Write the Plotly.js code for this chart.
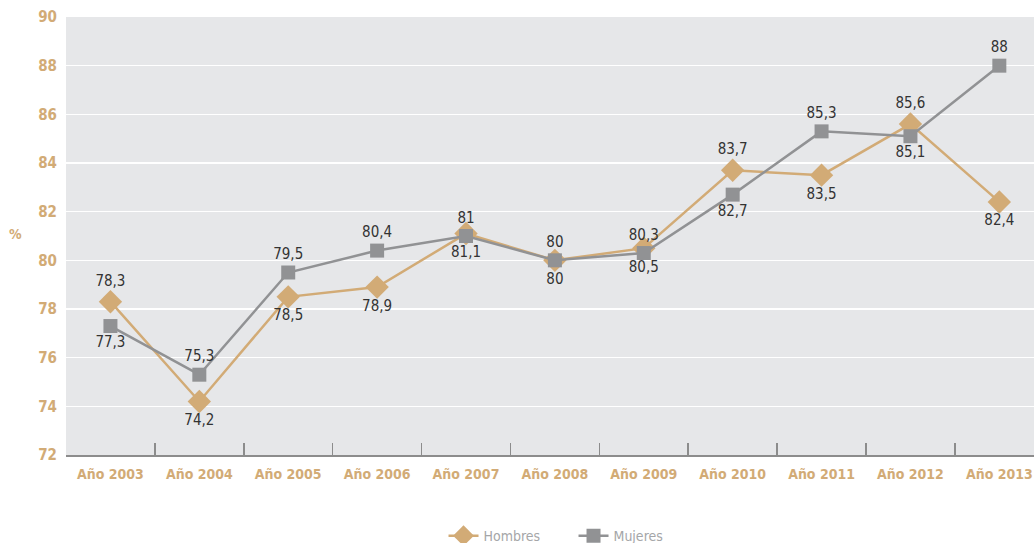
<!DOCTYPE html>
<html><head><meta charset="utf-8">
<script src="https://cdn.plot.ly/plotly-3.0.1.min.js"></script>
<style>html,body{margin:0;padding:0;background:#fff}#chart{width:1034px;height:543px}</style>
</head><body><div id="chart"></div>
<script>
const categories = ["Año 2003","Año 2004","Año 2005","Año 2006","Año 2007","Año 2008","Año 2009","Año 2010","Año 2011","Año 2012","Año 2013"];
const hombres = [78.3, 74.2, 78.5, 78.9, 81.1, 80, 80.5, 83.7, 83.5, 85.6, 82.4];
const mujeres = [77.3, 75.3, 79.5, 80.4, 81, 80, 80.3, 82.7, 85.3, 85.1, 88];
const hombresPos = ["top","bottom","bottom","bottom","bottom","bottom","bottom","top","bottom","top","bottom"];
const mujeresPos = ["bottom","top","top","top","top","top","top","bottom","top","bottom","top"];
const yTicks = [72,74,76,78,80,82,84,86,88,90];

const fmt = v => String(v).replace('.', ',');
const FONT = "DejaVu Sans Condensed, Liberation Sans Narrow, sans-serif";
const TAN = "#d2ab76";
const GRAY = "#919294";

const traces = [
  {x: categories, y: hombres, name: "Hombres", type: "scatter", mode: "lines+markers+text",
   line: {color: TAN, width: 2.5}, marker: {symbol: "diamond", size: 18, color: TAN},
   text: hombres.map(fmt), textposition: hombresPos.map(p => p + " center"),
   textfont: {family: FONT, size: 15, color: "#333"}, cliponaxis: false},
  {x: categories, y: mujeres, name: "Mujeres", type: "scatter", mode: "lines+markers+text",
   line: {color: GRAY, width: 2.5}, marker: {symbol: "square", size: 14, color: GRAY},
   text: mujeres.map(fmt), textposition: mujeresPos.map(p => p + " center"),
   textfont: {family: FONT, size: 15, color: "#333"}, cliponaxis: false}
];

const layout = {
  width: 1034, height: 543,
  margin: {l: 66, r: 0, t: 17, b: 88, autoexpand: false},
  paper_bgcolor: "#fff", plot_bgcolor: "#e6e7e9",
  font: {family: FONT},
  showlegend: true,
  legend: {orientation: "h", x: 0.39, xanchor: "left", y: -0.185, yanchor: "middle",
           entrywidth: 85, entrywidthmode: "pixels",
           font: {family: FONT, size: 14, color: "#a5a6a8"}, itemwidth: 30, tracegroupgap: 0},
  xaxis: {type: "category", range: [-0.5, 10.39], showgrid: false, zeroline: false,
          showline: true, linecolor: "#8c8c8c", linewidth: 1.5,
          ticks: "inside", tickson: "boundaries", ticklen: 12, tickcolor: "#8c8c8c", tickwidth: 1.5,
          ticklabelstandoff: 6,
          tickfont: {family: FONT, size: 14, color: TAN, weight: "bold"}},
  yaxis: {range: [72, 90], tickvals: yTicks, ticktext: yTicks.map(String),
          showgrid: true, gridcolor: "#ffffff", gridwidth: 1.5, zeroline: false, showline: false,
          ticks: "", ticklabelstandoff: 8,
          tickfont: {family: FONT, size: 15, color: TAN, weight: "bold"}},
  annotations: [{text: "%", xref: "paper", yref: "paper", x: -0.052, y: 0.505, showarrow: false,
                 xanchor: "center", yanchor: "middle",
                 font: {family: FONT, size: 14, color: TAN, weight: "bold"}}]
};

Plotly.newPlot("chart", traces, layout, {displayModeBar: false, staticPlot: true});
</script></body></html>
